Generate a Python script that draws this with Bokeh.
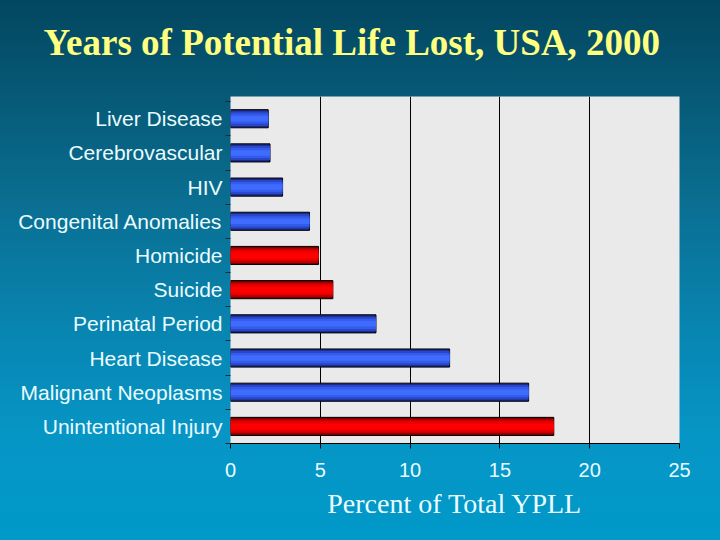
from bokeh.plotting import figure
from bokeh.models import FixedTicker, LinearAxis, Range1d, Title
from bokeh.embed import file_html
from bokeh.resources import INLINE

# ---- data (bottom to top) ----
categories = ["Unintentional Injury", "Malignant Neoplasms", "Heart Disease",
              "Perinatal Period", "Suicide", "Homicide", "Congenital Anomalies",
              "HIV", "Cerebrovascular", "Liver Disease"]
percent_ypll = [18.0, 16.6, 12.2, 8.1, 5.7, 4.9, 4.4, 2.9, 2.2, 2.1]
is_violence = [True, False, False, False, True, True, False, False, False, False]
x_ticks = [0, 5, 10, 15, 20, 25]
title_text = "Years of Potential Life Lost, USA, 2000"
x_title = "Percent of Total YPLL"

centers = [i + 0.5 for i in range(len(categories))]
boundaries = list(range(len(categories) + 1))

W, H = 720, 540
p = figure(width=W, height=H, output_backend="svg", toolbar_location=None,
           x_range=Range1d(0, 25), y_range=Range1d(0, 10.15),
           min_border_left=230, min_border_right=41, min_border_top=96,
           min_border_bottom=97)

p.styles = {"background": "linear-gradient(to bottom, #03465f 0%, #0a6e91 37%, "
                          "#0884b0 60%, #0696c6 81%, #0099c9 100%)"}
p.border_fill_color = None
p.background_fill_color = "#eaeaea"
p.outline_line_color = None

# main title (outermost) + spacer nearest the frame
p.title = Title(text=title_text, text_font="Liberation Serif",
                text_font_style="bold", text_font_size="37px",
                text_color="#ffff80", align="left", offset=-187, standoff=10)
spacer = Title(text=" ", text_font_size="24px", standoff=0)
p.add_layout(spacer, "above")

# grid
p.ygrid.grid_line_color = None
p.xgrid.ticker = FixedTicker(ticks=[t for t in x_ticks if 0 < t < 25])
p.xgrid.grid_line_color = "black"
p.xgrid.grid_line_width = 1

# bars with layered "gradient"
blue_layers = ["#1a2a86", "#2846c8", "#335bec", "#3f6bff"]
red_layers = ["#7a0000", "#c40000", "#ec0000", "#ff0000"]
heights = [0.53, 0.42, 0.30, 0.16]
for k, h in enumerate(heights):
    colors = [red_layers[k] if v else blue_layers[k] for v in is_violence]
    p.hbar(y=centers, right=percent_ypll, left=0, height=h, fill_color=colors,
           line_color="black" if k == 0 else None, line_width=1)

# x axis
xa = p.xaxis[0]
xa.ticker = FixedTicker(ticks=x_ticks)
xa.axis_line_color = "black"
xa.major_tick_line_color = "black"
xa.major_tick_out = 5
xa.major_tick_in = 0
xa.minor_tick_line_color = None
xa.major_label_text_font = "Liberation Sans"
xa.major_label_text_font_size = "20px"
xa.major_label_text_color = "#eafcff"
xa.major_label_standoff = 14
xa.axis_label = x_title
xa.axis_label_text_font = "Liberation Serif"
xa.axis_label_text_font_style = "normal"
xa.axis_label_text_font_size = "28px"
xa.axis_label_text_color = "#eafcff"
xa.axis_label_standoff = 8

# y axis: boundary ticks only
ya = p.yaxis[0]
ya.ticker = FixedTicker(ticks=boundaries)
ya.major_label_overrides = {b: "" for b in boundaries}
ya.major_label_standoff = 0
ya.axis_line_color = None
ya.major_tick_line_color = "#1b2a33"
ya.major_tick_out = 5
ya.major_tick_in = 0
ya.minor_tick_line_color = None

# y axis: category labels
la = LinearAxis(ticker=FixedTicker(ticks=centers),
                major_label_overrides={c: n for c, n in zip(centers, categories)})
la.axis_line_color = None
la.major_tick_line_color = None
la.minor_tick_line_color = None
la.major_label_text_font = "Liberation Sans"
la.major_label_text_font_size = "21px"
la.major_label_text_color = "#eafcff"
la.major_label_standoff = -3
p.add_layout(la, "left")

open("out.html", "w").write(file_html(p, INLINE))
